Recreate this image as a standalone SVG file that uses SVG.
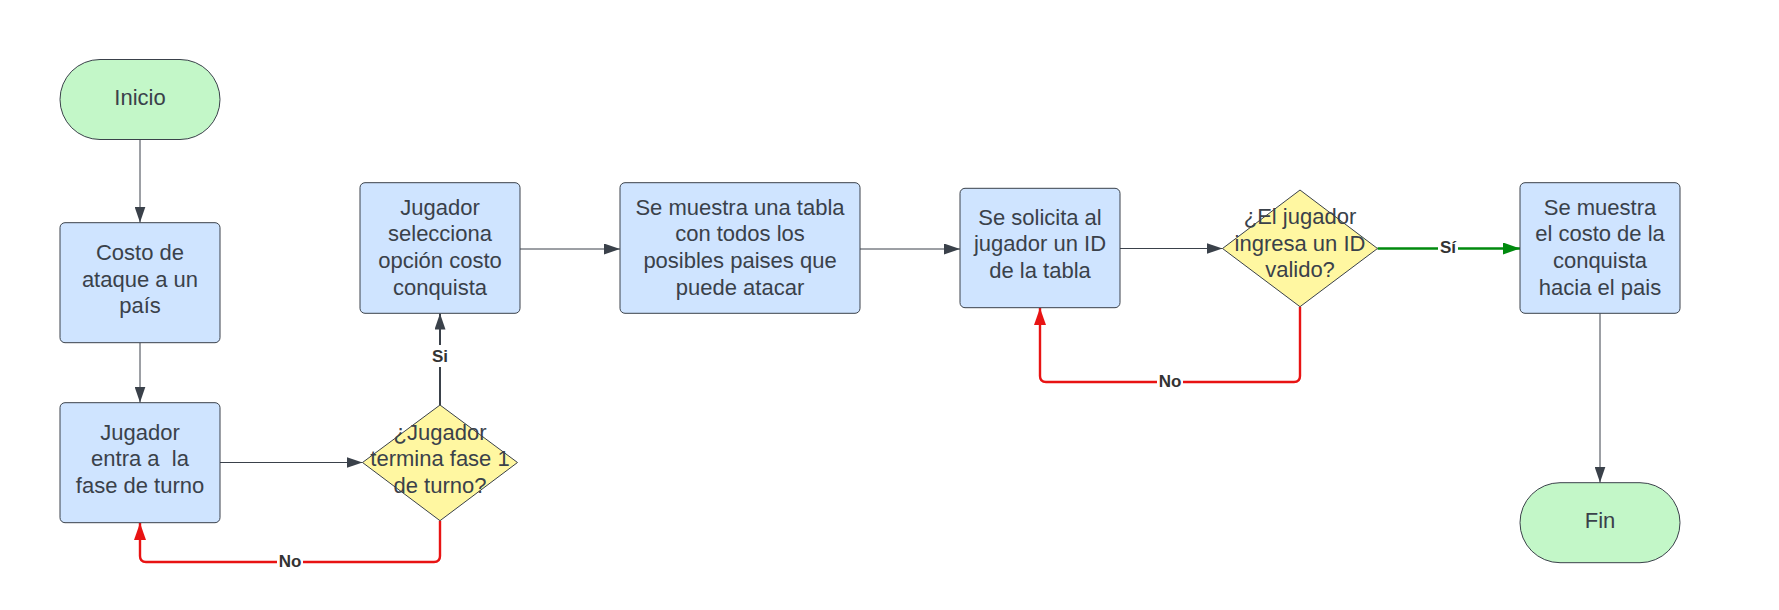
<svg xmlns="http://www.w3.org/2000/svg" width="1779" height="610" viewBox="0 0 1779 610">
<style>
.proc{fill:#cfe4ff;stroke:#3a414a;stroke-width:1}
.term{fill:#c3f7c8;stroke:#3a414a;stroke-width:1}
.dec{fill:#fff7a1;stroke:#3a414a;stroke-width:1;stroke-linejoin:round}
.t{font-family:"Liberation Sans",Arial,sans-serif;font-size:22px;fill:#3a414a;text-anchor:middle;white-space:pre}
.c{fill:none;stroke:#3a414a;stroke-width:1}
.cb{fill:none;stroke:#3a414a;stroke-width:2}
.red{fill:none;stroke:#e81313;stroke-width:2.4}
.grn{fill:none;stroke:#008a0e;stroke-width:2.4}
.lbl{font-family:"Liberation Sans",Arial,sans-serif;font-size:17px;font-weight:bold;fill:#333;text-anchor:middle}
.bg{fill:#fff}
</style>
<defs>
<marker id="ah" markerUnits="userSpaceOnUse" markerWidth="16" markerHeight="11" refX="16" refY="5.5" orient="auto">
<path d="M0,0 L16,5.5 L0,11 z" fill="#3a414a"/>
</marker>
<marker id="ahr" markerUnits="userSpaceOnUse" markerWidth="17" markerHeight="12" refX="17" refY="6" orient="auto">
<path d="M0,0 L17,6 L0,12 z" fill="#e81313"/>
</marker>
<marker id="ahg" markerUnits="userSpaceOnUse" markerWidth="17" markerHeight="12" refX="17" refY="6" orient="auto">
<path d="M0,0 L17,6 L0,12 z" fill="#008a0e"/>
</marker>
</defs>
<rect width="1779" height="610" fill="#fff"/>

<g id="connectors">
<path class="c" d="M140,139.5 V222.5" marker-end="url(#ah)"/>
<path class="c" d="M140,342.7 V402.5" marker-end="url(#ah)"/>
<path class="c" d="M220,462.5 H362.5" marker-end="url(#ah)"/>
<path class="cb" d="M440,405 V313.5" marker-end="url(#ah)"/>
<path class="c" d="M520,249 H620" marker-end="url(#ah)"/>
<path class="c" d="M860,249 H960" marker-end="url(#ah)"/>
<path class="c" d="M1120,248.5 H1222.5" marker-end="url(#ah)"/>
<path class="grn" d="M1377.5,248.5 H1520" marker-end="url(#ahg)"/>
<path class="red" d="M1300,306.7 V376 Q1300,382 1294,382 H1046 Q1040,382 1040,376 V308" marker-end="url(#ahr)"/>
<path class="red" d="M440,520.7 V556 Q440,562 434,562 H146 Q140,562 140,556 V523" marker-end="url(#ahr)"/>
<path class="c" d="M1600,313.3 V482.5" marker-end="url(#ah)"/>
<rect class="bg" x="428" y="345" width="24" height="22"/>
<text class="lbl" x="440" y="362">Si</text>
<rect class="bg" x="1438" y="237" width="20" height="20"/>
<text class="lbl" x="1448" y="253">Sí</text>
<rect class="bg" x="1157" y="371" width="26" height="20"/>
<text class="lbl" x="1170" y="387">No</text>
<rect class="bg" x="277" y="551" width="26" height="20"/>
<text class="lbl" x="290" y="567">No</text>
</g>

<g id="inicio">
<rect class="term" x="60" y="59.5" width="160" height="80" rx="40" ry="40"/>
<text class="t" x="140" y="104.5">Inicio</text>
</g>
<g id="costo-ataque">
<rect class="proc" x="60" y="222.7" width="160" height="120" rx="5"/>
<text class="t" x="140" y="260">Costo de</text>
<text class="t" x="140" y="286.7">ataque a un</text>
<text class="t" x="140" y="313.3">país</text>
</g>
<g id="jugador-entra">
<rect class="proc" x="60" y="402.7" width="160" height="120" rx="5"/>
<text class="t" x="140" y="439.5">Jugador</text>
<text class="t" x="140" y="466.2">entra a  la</text>
<text class="t" x="140" y="492.8">fase de turno</text>
</g>
<g id="decision-fase">
<polygon class="dec" points="440,405 517.5,462.5 440,520.7 362.5,462.5"/>
<text class="t" x="440" y="439.5">¿Jugador</text>
<text class="t" x="440" y="466.2">termina fase 1</text>
<text class="t" x="440" y="492.8">de turno?</text>
</g>
<g id="jugador-selecciona">
<rect class="proc" x="360" y="182.7" width="160" height="130.6" rx="5"/>
<text class="t" x="440" y="214.5">Jugador</text>
<text class="t" x="440" y="241.2">selecciona</text>
<text class="t" x="440" y="267.8">opción costo</text>
<text class="t" x="440" y="294.5">conquista</text>
</g>
<g id="muestra-tabla">
<rect class="proc" x="620" y="182.7" width="240" height="130.6" rx="5"/>
<text class="t" x="740" y="214.5">Se muestra una tabla</text>
<text class="t" x="740" y="241.2">con todos los</text>
<text class="t" x="740" y="267.8">posibles paises que</text>
<text class="t" x="740" y="294.5">puede atacar</text>
</g>
<g id="solicita-id">
<rect class="proc" x="960" y="188.3" width="160" height="119.4" rx="5"/>
<text class="t" x="1040" y="224.5">Se solicita al</text>
<text class="t" x="1040" y="251.2">jugador un ID</text>
<text class="t" x="1040" y="277.8">de la tabla</text>
</g>
<g id="decision-id">
<polygon class="dec" points="1300,190 1377.5,248.5 1300,306.7 1222.5,248.5"/>
<text class="t" x="1300" y="224">¿El jugador</text>
<text class="t" x="1300" y="250.7">ingresa un ID</text>
<text class="t" x="1300" y="277.3">valido?</text>
</g>
<g id="muestra-costo">
<rect class="proc" x="1520" y="182.7" width="160" height="130.6" rx="5"/>
<text class="t" x="1600" y="214.5">Se muestra</text>
<text class="t" x="1600" y="241.2">el costo de la</text>
<text class="t" x="1600" y="267.8">conquista</text>
<text class="t" x="1600" y="294.5">hacia el pais</text>
</g>
<g id="fin">
<rect class="term" x="1520" y="482.7" width="160" height="80" rx="40" ry="40"/>
<text class="t" x="1600" y="527.7">Fin</text>
</g>
</svg>
